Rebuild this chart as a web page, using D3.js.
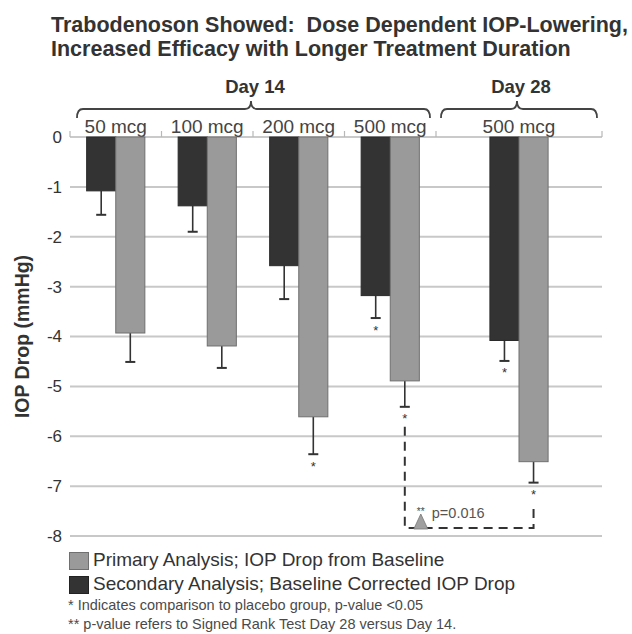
<!DOCTYPE html>
<html><head><meta charset="utf-8">
<script src="https://cdn.jsdelivr.net/npm/d3@7"></script>
<style>
html,body{margin:0;padding:0;background:#fff;}
svg{display:block;font-family:"Liberation Sans",Arial,sans-serif;}
</style></head>
<body><svg id="c" width="632" height="634"></svg>
<script>
// ---- data ----
const titleLines = ["Trabodenoson Showed:  Dose Dependent IOP-Lowering,", "Increased Efficacy with Longer Treatment Duration"];
const days = ["Day 14", "Day 28"];
const day14Doses = ["50 mcg", "100 mcg", "200 mcg", "500 mcg"];
const day28Doses = ["500 mcg"];
const primary = [-3.93, -4.19, -5.61, -4.89, -6.51];      // grey
const primaryErr = [0.58, 0.44, 0.75, 0.52, 0.42];
const primarySig = [false, false, true, true, true];
const secondary = [-1.08, -1.38, -2.58, -3.18, -4.08];    // dark
const secondaryErr = [0.48, 0.52, 0.67, 0.45, 0.41];
const secondarySig = [false, false, false, true, true];
const yTicks = [0, -1, -2, -3, -4, -5, -6, -7, -8];
const yLabel = "IOP Drop (mmHg)";
const legendLabels = ["Primary Analysis; IOP Drop from Baseline", "Secondary Analysis; Baseline Corrected IOP Drop"];
const footnotes = ["* Indicates comparison to placebo group, p-value <0.05", "** p-value refers to Signed Rank Test Day 28 versus Day 14."];
const pText = "p=0.016";

// ---- layout ----
const svg = d3.select("#c");
const left = 70, right = 602, splitX = 436;
const y = d3.scaleLinear().domain([0, -8]).range([137, 536]);
const x14 = d3.scaleBand().domain(day14Doses).range([left, splitX]);
const x28 = d3.scaleBand().domain(day28Doses).range([splitX, right]);
const groups = day14Doses.map(d => ({day: 0, dose: d, sc: x14}))
  .concat(day28Doses.map(d => ({day: 1, dose: d, sc: x28})));
const center = g => g.sc(g.dose) + g.sc.bandwidth() / 2;
const barW = x14.bandwidth() * 0.318;

const GREY = "#9a9a9a", GREYS = "#707070", DARK = "#333333", TXT = "#333";

// title
svg.selectAll("text.title").data(titleLines).join("text")
  .attr("class", "title").attr("x", 51).attr("y", (d, i) => 31.5 + i * 24)
  .attr("font-size", 21.5).attr("font-weight", "bold").attr("fill", "#333")
  .style("white-space", "pre").attr("xml:space", "preserve")
  .text(d => d);

// gridlines
svg.append("g").selectAll("line").data(yTicks.filter(t => t !== 0)).join("line")
  .attr("x1", left).attr("x2", right).attr("y1", d => y(d)).attr("y2", d => y(d))
  .attr("stroke", "#c8c8c8").attr("stroke-width", 2);

// zero line w/ segment ticks
svg.append("line").attr("x1", left).attr("x2", right).attr("y1", y(0)).attr("y2", y(0))
  .attr("stroke", "#b8b8b8").attr("stroke-width", 1.5);
const seps = [left].concat(day14Doses.map(d => x14(d) + x14.bandwidth()), [right]);
svg.append("g").selectAll("line").data(seps).join("line")
  .attr("x1", d => d).attr("x2", d => d).attr("y1", y(0) - 6).attr("y2", y(0))
  .attr("stroke", "#b8b8b8").attr("stroke-width", 1.2);

// y axis labels
const ax = svg.append("g").attr("transform", `translate(${left},0)`)
  .call(d3.axisLeft(y).tickValues(yTicks).tickSize(0).tickPadding(8).tickFormat(d => String(d)));
ax.select(".domain").remove();
ax.selectAll("text").attr("font-size", 17).attr("fill", TXT).attr("font-family", "Liberation Sans, Arial, sans-serif");

svg.append("text").attr("transform", `translate(29,${(y(0) + y(-8)) / 2}) rotate(-90)`)
  .attr("text-anchor", "middle").attr("font-size", 19.5).attr("font-weight", "bold").attr("fill", "#333")
  .text(yLabel);

// dose labels
svg.append("g").selectAll("text").data(groups).join("text")
  .attr("x", g => center(g)).attr("y", 133).attr("text-anchor", "middle")
  .attr("font-size", 19).attr("fill", "#444").text(g => g.dose);

// braces and day labels
function brace(x1, x2, xm) {
  const yl = 109, yp = 101, ye = 118, r = 6;
  return `M${x1},${ye} Q${x1},${yl} ${x1 + r},${yl} L${xm - r},${yl} Q${xm},${yl} ${xm},${yp} Q${xm},${yl} ${xm + r},${yl} L${x2 - r},${yl} Q${x2},${yl} ${x2},${ye}`;
}
const dayRanges = [x14.range(), x28.range()];
const dayCenters = dayRanges.map(r => (r[0] + r[1]) / 2 - 2);
days.forEach((d, i) => {
  const [a, b] = dayRanges[i];
  svg.append("path").attr("d", brace(a + (i ? 5 : 7), b - (i ? 5 : 6), dayCenters[i]))
    .attr("fill", "none").attr("stroke", "#444").attr("stroke-width", 1.8);
  svg.append("text").attr("x", dayCenters[i] + 4).attr("y", 93).attr("text-anchor", "middle")
    .attr("font-size", 18.5).attr("font-weight", "bold").attr("fill", "#333").text(d);
});

// bars
const series = [
  {vals: secondary, err: secondaryErr, sig: secondarySig, fill: DARK, stroke: "#2a2a2a", off: -1},
  {vals: primary, err: primaryErr, sig: primarySig, fill: GREY, stroke: GREYS, off: 0}
];
series.forEach(s => {
  const gg = svg.append("g");
  const rows = groups.map((g, i) => ({g, v: s.vals[i], e: s.err[i], sig: s.sig[i]}));
  gg.selectAll("line.err").data(rows).join("line")
    .attr("x1", r => center(r.g) + s.off * barW + barW / 2).attr("x2", r => center(r.g) + s.off * barW + barW / 2)
    .attr("y1", r => y(r.v)).attr("y2", r => y(r.v - r.e))
    .attr("stroke", "#333").attr("stroke-width", 1.6);
  gg.selectAll("line.cap").data(rows).join("line")
    .attr("x1", r => center(r.g) + s.off * barW + barW / 2 - 5).attr("x2", r => center(r.g) + s.off * barW + barW / 2 + 5)
    .attr("y1", r => y(r.v - r.e)).attr("y2", r => y(r.v - r.e))
    .attr("stroke", "#333").attr("stroke-width", 2);
  gg.selectAll("rect").data(rows).join("rect")
    .attr("x", r => center(r.g) + s.off * barW).attr("width", barW)
    .attr("y", y(0)).attr("height", r => y(r.v) - y(0))
    .attr("fill", s.fill).attr("stroke", s.stroke).attr("stroke-width", 1);
  gg.selectAll("text").data(rows.filter(r => r.sig)).join("text")
    .attr("x", r => center(r.g) + s.off * barW + barW / 2).attr("y", r => y(r.v - r.e) + 16.5)
    .attr("text-anchor", "middle").attr("font-size", 13).attr("fill", "#333").text("*");
});

// dashed comparison bracket between Day14 500 mcg and Day28 500 mcg primary bars
const xa = center(groups[3]) + barW / 2, xb = center(groups[4]) + barW / 2;
const yb = 528;
svg.append("path")
  .attr("d", `M${xa},${y(primary[3] - primaryErr[3]) + 20} L${xa},${yb} L${xb},${yb} L${xb},${y(primary[4] - primaryErr[4]) + 25}`)
  .attr("fill", "none").attr("stroke", "#333").attr("stroke-width", 2).attr("stroke-dasharray", "9,6");
svg.append("path").attr("d", `M${xa + 9},${yb + 1} L${xa + 16},${yb - 14} L${xa + 23},${yb + 1} Z`)
  .attr("fill", "#a0a0a0").attr("stroke", "#777").attr("stroke-width", 0.8);
svg.append("text").attr("x", xa + 12).attr("y", yb - 13).attr("font-size", 10).attr("fill", "#444").text("**");
svg.append("text").attr("x", xa + 27).attr("y", yb - 10).attr("font-size", 14.5).attr("fill", "#555").text(pText);

// legend
const lg = svg.append("g");
lg.selectAll("rect").data(legendLabels).join("rect")
  .attr("x", 69.5).attr("y", (d, i) => 552.5 + i * 24).attr("width", 19).attr("height", 17)
  .attr("fill", (d, i) => i ? DARK : GREY).attr("stroke", (d, i) => i ? "#222" : GREYS);
lg.selectAll("text").data(legendLabels).join("text")
  .attr("x", 93).attr("y", (d, i) => 565.5 + i * 24)
  .attr("font-size", 19).attr("fill", "#333").text(d => d);

svg.append("g").selectAll("text").data(footnotes).join("text")
  .attr("x", 68).attr("y", (d, i) => 610 + i * 18.5)
  .attr("font-size", 14.5).attr("fill", "#4a4a4a").text(d => d);
</script></body></html>
